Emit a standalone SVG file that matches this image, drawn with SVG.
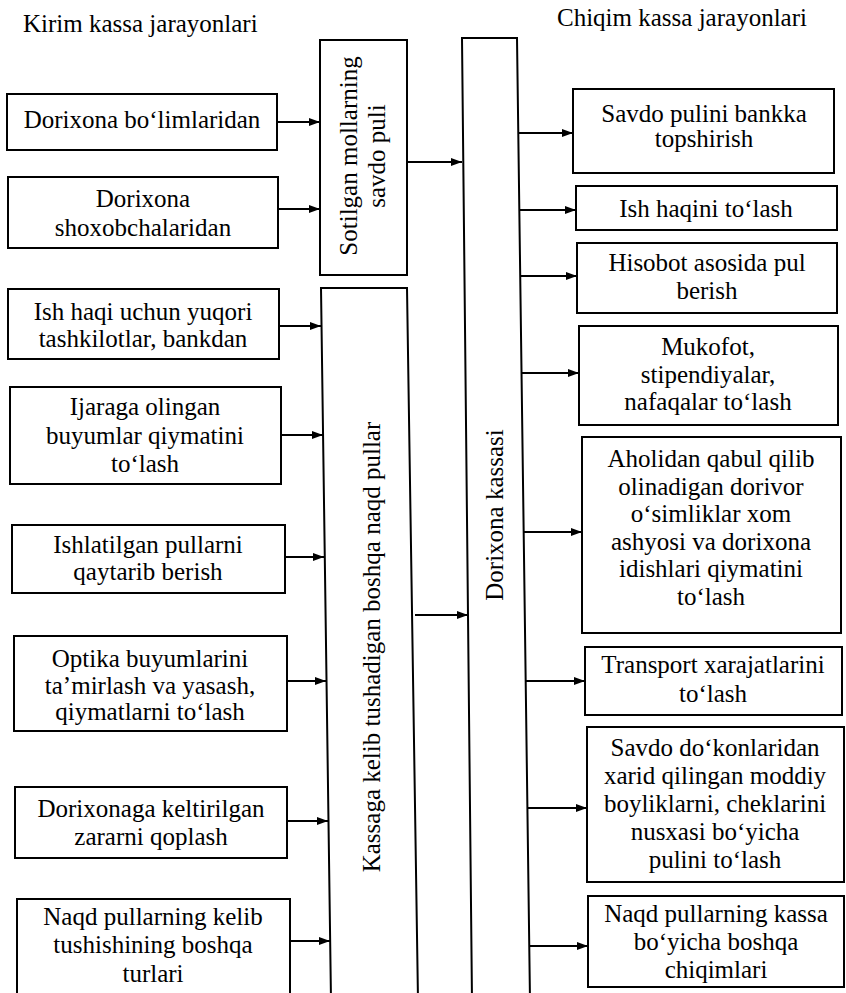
<svg xmlns="http://www.w3.org/2000/svg" width="846" height="993" viewBox="0 0 846 993">
<style>
.bx{fill:#fff;stroke:#000;stroke-width:2}
.t{font-family:'Liberation Serif','DejaVu Serif',serif;font-size:25px;fill:#000;text-anchor:middle}
.h{font-family:'Liberation Serif','DejaVu Serif',serif;font-size:25px;fill:#000}
.c{stroke:#000;stroke-width:2;fill:none;marker-end:url(#ah)}
</style>
<defs>
<marker id="ah" markerWidth="11" markerHeight="8" refX="11" refY="4" orient="auto" markerUnits="userSpaceOnUse">
<path d="M0,0 L11,4 L0,8 Z" fill="#000"/>
</marker>
</defs>
<rect width="846" height="993" fill="#fff"/>
<g font-family="Liberation Serif, DejaVu Serif, serif">
<text class="h" x="23" y="32">Kirim kassa jarayonlari</text>
<text class="h" x="557" y="26">Chiqim kassa jarayonlari</text>

<g id="connectors">
<line class="c" x1="277" y1="122" x2="320" y2="122"/>
<line class="c" x1="278" y1="209" x2="320" y2="209"/>
<line class="c" x1="279" y1="326" x2="321" y2="326"/>
<line class="c" x1="281" y1="435" x2="323" y2="435"/>
<line class="c" x1="285" y1="557" x2="324" y2="557"/>
<line class="c" x1="287" y1="681" x2="326" y2="681"/>
<line class="c" x1="287" y1="821" x2="328" y2="821"/>
<line class="c" x1="290" y1="941" x2="330" y2="941"/>
<line class="c" x1="407" y1="162" x2="462" y2="162"/>
<line class="c" x1="415" y1="615" x2="468" y2="615"/>
<line class="c" x1="518" y1="133" x2="573" y2="133"/>
<line class="c" x1="519" y1="210" x2="576" y2="210"/>
<line class="c" x1="520" y1="276" x2="577" y2="276"/>
<line class="c" x1="521" y1="373" x2="579" y2="373"/>
<line class="c" x1="523" y1="532" x2="582" y2="532"/>
<line class="c" x1="526" y1="681" x2="585" y2="681"/>
<line class="c" x1="528" y1="808" x2="587" y2="808"/>
<line class="c" x1="530" y1="946" x2="588" y2="946"/>
</g>

<g id="sotilgan">
<rect class="bx" x="320" y="40" width="87" height="235"/>
<text class="t" transform="translate(357,156) rotate(-90)">Sotilgan mollarning<tspan x="0" dy="28">savdo puli</tspan></text>
</g>
<g id="kassaga">
<path class="bx" d="M321,288 L407,288 L418,1000 L331,1000 Z"/>
<text class="t" transform="translate(380,647) rotate(-90)">Kassaga kelib tushadigan boshqa naqd pullar</text>
</g>
<g id="kassa">
<path class="bx" d="M462,38 L517,38 L530,1000 L472,1000 Z"/>
<text class="t" transform="translate(503,515) rotate(-90)">Dorixona kassasi</text>
</g>

<g id="in1"><rect class="bx" x="7" y="94" width="270" height="56"/>
<text class="t" x="142" y="128">Dorixona bo‘limlaridan</text></g>
<g id="in2"><rect class="bx" x="8" y="177" width="270" height="71"/>
<text class="t" x="143" y="207">Dorixona<tspan x="143" dy="29">shoxobchalaridan</tspan></text></g>
<g id="in3"><rect class="bx" x="8" y="289" width="271" height="70"/>
<text class="t" x="143" y="320">Ish haqi uchun yuqori<tspan x="143" dy="27">tashkilotlar, bankdan</tspan></text></g>
<g id="in4"><rect class="bx" x="10" y="387" width="271" height="97"/>
<text class="t" x="145" y="415">Ijaraga olingan<tspan x="145" dy="29">buyumlar qiymatini</tspan><tspan x="145" dy="28">to‘lash</tspan></text></g>
<g id="in5"><rect class="bx" x="12" y="525" width="273" height="68"/>
<text class="t" x="148" y="553">Ishlatilgan pullarni<tspan x="148" dy="27">qaytarib berish</tspan></text></g>
<g id="in6"><rect class="bx" x="14" y="636" width="273" height="95"/>
<text class="t" x="150" y="667">Optika buyumlarini<tspan x="150" dy="27">ta’mirlash va yasash,</tspan><tspan x="150" dy="26">qiymatlarni to‘lash</tspan></text></g>
<g id="in7"><rect class="bx" x="15" y="787" width="272" height="71"/>
<text class="t" x="151" y="817">Dorixonaga keltirilgan<tspan x="151" dy="28">zararni qoplash</tspan></text></g>
<g id="in8"><rect class="bx" x="17" y="899" width="273" height="110"/>
<text class="t" x="153" y="925">Naqd pullarning kelib<tspan x="153" dy="28">tushishining boshqa</tspan><tspan x="153" dy="29">turlari</tspan></text></g>

<g id="out1"><rect class="bx" x="573" y="89" width="261" height="84"/>
<text class="t" x="704" y="122">Savdo pulini bankka<tspan x="704" dy="25">topshirish</tspan></text></g>
<g id="out2"><rect class="bx" x="576" y="186" width="261" height="44"/>
<text class="t" x="706" y="217">Ish haqini to‘lash</text></g>
<g id="out3"><rect class="bx" x="577" y="243" width="260" height="70"/>
<text class="t" x="707" y="271">Hisobot asosida pul<tspan x="707" dy="28">berish</tspan></text></g>
<g id="out4"><rect class="bx" x="579" y="326" width="259" height="99"/>
<text class="t" x="708" y="355">Mukofot,<tspan x="708" dy="28">stipendiyalar,</tspan><tspan x="708" dy="27">nafaqalar to‘lash</tspan></text></g>
<g id="out5"><rect class="bx" x="582" y="437" width="259" height="196"/>
<text class="t" x="711" y="467">Aholidan qabul qilib<tspan x="711" dy="27.6">olinadigan dorivor</tspan><tspan x="711" dy="27.6">o‘simliklar xom</tspan><tspan x="711" dy="27.6">ashyosi va dorixona</tspan><tspan x="711" dy="27.6">idishlari qiymatini</tspan><tspan x="711" dy="27.6">to‘lash</tspan></text></g>
<g id="out6"><rect class="bx" x="585" y="647" width="257" height="68"/>
<text class="t" x="713" y="673">Transport xarajatlarini<tspan x="713" dy="29">to‘lash</tspan></text></g>
<g id="out7"><rect class="bx" x="587" y="727" width="257" height="155"/>
<text class="t" x="715" y="756">Savdo do‘konlaridan<tspan x="715" dy="28">xarid qilingan moddiy</tspan><tspan x="715" dy="28">boyliklarni, cheklarini</tspan><tspan x="715" dy="28">nusxasi bo‘yicha</tspan><tspan x="715" dy="28">pulini to‘lash</tspan></text></g>
<g id="out8"><rect class="bx" x="588" y="896" width="256" height="91"/>
<text class="t" x="716" y="922">Naqd pullarning kassa<tspan x="716" dy="28">bo‘yicha boshqa</tspan><tspan x="716" dy="28">chiqimlari</tspan></text></g>
</g>
</svg>
